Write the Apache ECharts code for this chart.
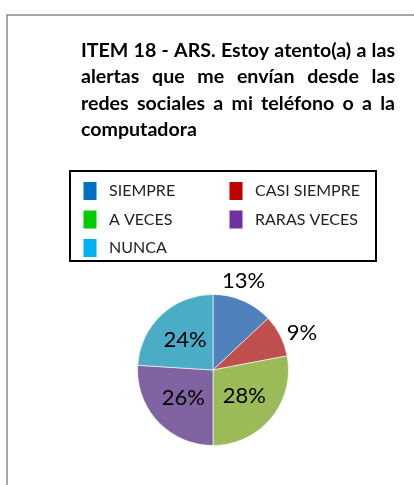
<!DOCTYPE html>
<html>
<head>
<meta charset="utf-8">
<script src="https://cdn.jsdelivr.net/npm/echarts@6/dist/echarts.min.js"></script>
<style>
  html, body { margin: 0; padding: 0; background: #fff; }
  #main { width: 414px; height: 485px; }
</style>
</head>
<body>
<div id="main"></div>
<script>
// datos del gráfico
const titleLines = [
  "ITEM 18 - ARS. Estoy atento(a) a las",
  "alertas que me envían desde las",
  "redes sociales a mi teléfono o a la",
  "computadora"
];
const categorias = ["SIEMPRE", "CASI SIEMPRE", "A VECES", "RARAS VECES", "NUNCA"];
const porcentajes = [13, 9, 28, 26, 24];
const coloresPie = ["#4F81BD", "#C0504D", "#9BBB59", "#8064A2", "#4BACC6"];
const coloresLeyenda = ["#0070C0", "#C00000", "#00CC00", "#7030A0", "#00B0F0"];
// columnas de la leyenda
const leyendaCol1 = ["SIEMPRE", "A VECES", "NUNCA"];
const leyendaCol2 = ["CASI SIEMPRE", "RARAS VECES"];

// etiquetas fuera del pastel para las porciones pequeñas
const labelFuera = {
  "SIEMPRE": { position: "outside", offset: [-32, -6] },
  "CASI SIEMPRE": { position: "outside", offset: [-12, 4] }
};

const titleFont = 19.6;
const titleWidth = 314;

// texto justificado: cada espacio es un token rich con ancho calculado
const ctx = document.createElement("canvas").getContext("2d");
ctx.font = "bold " + titleFont + "px Lato";
const richTitle = {};
const lineasTitulo = titleLines.map(function (linea, i) {
  if (i === titleLines.length - 1) return linea;
  const palabras = linea.split(" ");
  let ancho = 0;
  palabras.forEach(function (p) { ancho += ctx.measureText(p).width; });
  const gap = (titleWidth - ancho) / (palabras.length - 1);
  richTitle["s" + i] = { width: gap, fontSize: titleFont, lineHeight: 26.5 };
  return palabras.join("{s" + i + "| }");
});

const chart = echarts.init(document.getElementById("main"));

function leyenda(nombres, x) {
  return {
    orient: "vertical",
    left: x,
    top: 180,
    padding: 0,
    itemGap: 6.5,
    itemWidth: 15,
    itemHeight: 20,
    icon: "rect",
    symbolKeepAspect: false,
    textStyle: { fontFamily: "Lato", fontSize: 16, color: "#222", padding: [0, 0, 0, 6.5] },
    data: nombres.map(function (n) {
      return { name: n, itemStyle: { color: coloresLeyenda[categorias.indexOf(n)] } };
    })
  };
}

const option = {
  animation: false,
  graphic: [
    {
      type: "rect",
      shape: { x: 7, y: 15, width: 500, height: 500 },
      style: { fill: "none", stroke: "#8a8a8a", lineWidth: 1.5 }
    },
    {
      type: "rect",
      shape: { x: 70, y: 171, width: 306, height: 90 },
      style: { fill: "none", stroke: "#000", lineWidth: 2 }
    }
  ],
  title: {
    text: lineasTitulo.join("\n"),
    left: 81,
    top: 37,
    padding: 0,
    textStyle: {
      fontFamily: "Lato",
      fontWeight: "bold",
      fontSize: titleFont,
      lineHeight: 26.5,
      color: "#000",
      rich: richTitle
    }
  },
  legend: [leyenda(leyendaCol1, 81.5), leyenda(leyendaCol2, 227.5)],
  series: [
    {
      type: "pie",
      center: [213, 370],
      radius: 75.5,
      startAngle: 90,
      clockwise: true,
      color: coloresPie,
      itemStyle: { borderColor: "#fff", borderWidth: 0.6 },
      label: {
        show: true,
        position: "inside",
        formatter: "{c}%",
        fontFamily: "Lato",
        fontSize: 22,
        color: "#000"
      },
      labelLine: { show: false, length: 15, length2: 0 },
      emphasis: { disabled: true },
      data: categorias.map(function (n, i) {
        const d = { name: n, value: porcentajes[i] };
        if (labelFuera[n]) d.label = labelFuera[n];
        return d;
      })
    }
  ]
};

chart.setOption(option);
</script>
</body>
</html>
